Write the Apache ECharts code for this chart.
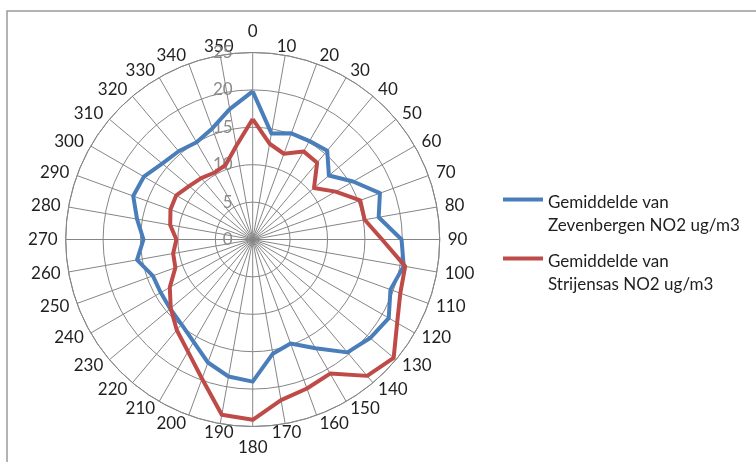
<!DOCTYPE html>
<html>
<head>
<meta charset="utf-8">
<script src="https://cdn.jsdelivr.net/npm/echarts@6/dist/echarts.min.js"></script>
<style>
html,body{margin:0;padding:0;background:#fff;}
#chart{width:756px;height:462px;}
</style>
</head>
<body>
<div id="chart"></div>
<script>
// Wind direction categories (degrees)
var categories = ['0','10','20','30','40','50','60','70','80','90','100','110','120','130','140','150','160','170',
                  '180','190','200','210','220','230','240','250','260','270','280','290','300','310','320','330','340','350'];
// Radial tick labels
var radialTicks = [0, 5, 10, 15, 20, 25];

var seriesNames = ['Gemiddelde van\nZevenbergen NO2 ug/m3', 'Gemiddelde van\nStrijensas NO2 ug/m3'];

var zevenbergen = [19.8, 14.4, 15.1, 15.2, 15.5, 13.3, 15.5, 18.1, 17.1, 19.9, 20.5, 19.6,
                   21.0, 20.5, 19.7, 16.8, 14.8, 15.5, 19.0, 18.6, 17.5, 15.8, 14.8, 14.4,
                   14.2, 14.2, 15.7, 14.6, 15.7, 17.0, 16.8, 15.8, 15.4, 15.0, 15.8, 17.7];
var strijensas = [16.1, 13.0, 12.2, 13.6, 13.4, 10.7, 12.8, 15.3, 15.2, 17.3, 20.7, 21.0,
                  22.3, 24.6, 23.8, 20.7, 21.2, 21.8, 24.1, 23.8, 19.8, 17.3, 15.8, 14.3,
                  12.8, 11.0, 10.8, 10.2, 11.2, 11.7, 11.8, 11.1, 10.7, 10.3, 10.6, 12.7];

function closedPolar(values) {
  var pts = values.map(function (v, i) { return [v, Number(categories[i])]; });
  pts.push([values[0], 360]);
  return pts;
}

var FONT = 'Lato';
var chart = echarts.init(document.getElementById('chart'), null, {renderer: 'canvas'});
var gridColor = '#868686';
var textColor = '#1f1f1f';

function legendFor(i, top) {
  return {
    orient: 'vertical', left: 498, top: top,
    data: [seriesNames[i]],
    icon: 'rect', itemWidth: 40, itemHeight: 4,
    formatter: function (name) {
      return '{s| }\n' + name.split('\n').map(function (t) { return '{a|' + t + '}'; }).join('\n');
    },
    textStyle: {
      fontFamily: FONT, fontSize: 17, color: textColor,
      rich: {
        s: {fontFamily: FONT, fontSize: 17, lineHeight: 29},
        a: {fontFamily: FONT, fontSize: 17, color: textColor, lineHeight: 23}
      }
    },
    itemGap: 0
  };
}

chart.setOption({
  animation: false,
  backgroundColor: '#ffffff',
  graphic: [{
    type: 'rect',
    shape: {x: 7, y: 11, width: 760, height: 470},
    style: {fill: 'none', stroke: '#9a9a9a', lineWidth: 1.5},
    silent: true
  }],
  polar: {center: [252.7, 239.5], radius: 187},
  angleAxis: {
    type: 'value', min: 0, max: 360, interval: 10,
    startAngle: 90, clockwise: true,
    axisLine: {show: true, lineStyle: {color: gridColor, width: 1}},
    axisTick: {show: false},
    splitLine: {show: true, lineStyle: {color: gridColor, width: 1}},
    axisLabel: {
      margin: 8, fontFamily: FONT, fontSize: 17, color: textColor, lineHeight: 1,
      formatter: function (v) {
        if (v === 360) return '';
        return (v % 180 === 0) ? '{p|' + v + '}' : String(v);
      },
      rich: {p: {fontFamily: FONT, fontSize: 17, color: textColor, lineHeight: 26}}
    }
  },
  radiusAxis: {
    type: 'value', min: radialTicks[0], max: radialTicks[radialTicks.length - 1], interval: 5,
    axisLine: {show: false},
    axisTick: {show: false},
    splitLine: {show: true, lineStyle: {color: gridColor, width: 1}},
    axisLabel: {margin: 20, fontFamily: FONT, fontSize: 17, color: '#8a8a8a'}
  },
  legend: [legendFor(0, 163), legendFor(1, 222)],
  series: [{
    name: seriesNames[0], type: 'line', coordinateSystem: 'polar',
    data: closedPolar(zevenbergen), showSymbol: false,
    lineStyle: {color: '#4A7EBB', width: 4, join: 'round'},
    itemStyle: {color: '#4A7EBB'}, z: 3
  }, {
    name: seriesNames[1], type: 'line', coordinateSystem: 'polar',
    data: closedPolar(strijensas), showSymbol: false,
    lineStyle: {color: '#BE4B48', width: 4, join: 'round'},
    itemStyle: {color: '#BE4B48'}, z: 4
  }]
});
</script>
</body>
</html>
